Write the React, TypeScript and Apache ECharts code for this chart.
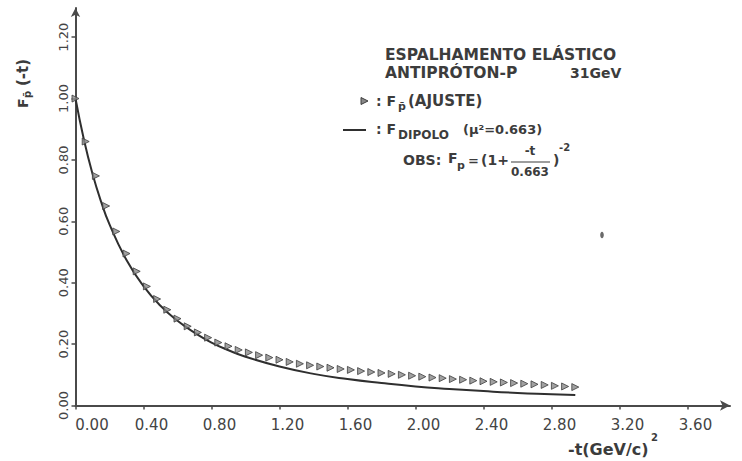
import React, { useEffect, useRef } from "react";
import * as echarts from "echarts";

// Fitted form factor F_pbar(-t) (triangles)
const FIT_T = [
  0, 0.06, 0.12, 0.18, 0.24, 0.3, 0.36, 0.42, 0.48, 0.54, 0.6, 0.66, 0.72, 0.78, 0.84, 0.9, 0.96,
  1.02, 1.08, 1.14, 1.2, 1.26, 1.32, 1.38, 1.44, 1.5, 1.56, 1.62, 1.68, 1.74, 1.8, 1.86, 1.92, 1.98,
  2.04, 2.1, 2.16, 2.22, 2.28, 2.34, 2.4, 2.46, 2.52, 2.58, 2.64, 2.7, 2.76, 2.82, 2.88, 2.94,
];
const FIT_F = [
  1.0, 0.86, 0.748, 0.65, 0.567, 0.495, 0.437, 0.388, 0.347, 0.312, 0.283, 0.258, 0.238, 0.221, 0.205, 0.193, 0.181,
  0.173, 0.164, 0.156, 0.149, 0.142, 0.136, 0.131, 0.127, 0.123, 0.119, 0.116, 0.112, 0.109, 0.106, 0.103, 0.1, 0.097,
  0.094, 0.091, 0.089, 0.086, 0.084, 0.081, 0.079, 0.077, 0.075, 0.073, 0.071, 0.069, 0.067, 0.064, 0.062, 0.06,
];

// Dipole curve (line)
const DIPOLE_T = [0, 0.05, 0.1, 0.15, 0.2, 0.3, 0.4, 0.5, 0.6, 0.7, 0.8, 0.9, 1.0, 1.2, 1.4, 1.6, 1.8, 2.0, 2.2, 2.4, 2.6, 2.8, 2.94];
const DIPOLE_F = [1.0, 0.865, 0.755, 0.665, 0.59, 0.474, 0.389, 0.325, 0.276, 0.237, 0.205, 0.18, 0.159, 0.127, 0.103, 0.086, 0.073, 0.062, 0.054, 0.047, 0.041, 0.037, 0.034];

const X_TICKS = [0, 0.4, 0.8, 1.2, 1.6, 2.0, 2.4, 2.8, 3.2, 3.6];
const Y_TICKS = [0, 0.2, 0.4, 0.6, 0.8, 1.0, 1.2];

const FONT = "DejaVu Sans";
const INK = "#3c3c3c";
const AXIS = "#4a4a4a";

function txt(x: number, y: number, text: string, size: number, extra: any = {}) {
  const { align, weight, rotation, color } = extra;
  return {
    type: "text",
    x,
    y,
    rotation: rotation || 0,
    style: {
      text,
      fill: color || INK,
      font: `${weight || "bold"} ${size}px "${FONT}"`,
      textAlign: align || "left",
      textVerticalAlign: "middle",
    },
  };
}

export default function App() {
  const ref = useRef<HTMLDivElement>(null);

  useEffect(() => {
    if (!ref.current) return;
    const chart = echarts.init(ref.current, undefined, { renderer: "svg" });

    const fitData = FIT_T.map((t, i) => [t, FIT_F[i]]);
    const dipData = DIPOLE_T.map((t, i) => [t, DIPOLE_F[i]]);

    const R = Math.PI / 2;

    const graphic: any[] = [
      // title
      txt(385, 55, "ESPALHAMENTO ELÁSTICO", 15.5),
      txt(385, 73, "ANTIPRÓTON-P", 15.5),
      txt(570, 73, "31GeV", 14),
      // legend line 1: triangles
      {
        type: "polygon",
        shape: { points: [[361, 97.5], [368, 101], [361, 104.5]] },
        style: { fill: "#888", stroke: "#3d3d3d", lineWidth: 1 },
      },
      txt(376, 101, ": F", 14),
      txt(398, 106, "p̄", 11),
      txt(408, 101, "(AJUSTE)", 15),
      // legend line 2: dipole
      {
        type: "line",
        shape: { x1: 343, y1: 130, x2: 366, y2: 130 },
        style: { stroke: "#2f2f2f", lineWidth: 2 },
      },
      txt(376, 129, ": F", 14),
      txt(398, 135, "DIPOLO", 12),
      txt(463, 129, "(μ²=0.663)", 13),
      // OBS formula
      txt(403, 160, "OBS:", 14),
      txt(448, 158, "F", 14),
      txt(457, 165, "p", 11),
      txt(468, 160, "=", 13),
      txt(481, 160, "(1+", 14),
      txt(530, 151, "-t", 12, { align: "center" }),
      {
        type: "line",
        shape: { x1: 511, y1: 162, x2: 550, y2: 162 },
        style: { stroke: INK, lineWidth: 1.2 },
      },
      txt(530, 172, "0.663", 12, { align: "center" }),
      txt(553, 160, ")", 14),
      txt(559, 147, "-2", 10),
      // x-axis name
      txt(568, 449, "-t(GeV/c)", 16),
      txt(651, 437, "2", 10),
      // y-axis name (rotated)
      txt(23, 108, "F", 14, { rotation: R }),
      txt(27, 98, "p̄", 10, { rotation: R }),
      txt(23, 86, "(-t)", 15, { rotation: R }),
      // small speck on the page
      {
        type: "ellipse",
        shape: { cx: 602, cy: 235, rx: 1.8, ry: 3.2 },
        style: { fill: "#6a6a6a" },
      },
    ];

    chart.setOption({
      animation: false,
      backgroundColor: "#ffffff",
      grid: { left: 75.5, right: 12, top: 8, bottom: 55.5, containLabel: false },
      xAxis: {
        type: "value",
        min: 0,
        max: 3.85,
        splitLine: { show: false },
        axisLine: {
          show: true,
          symbol: ["none", "arrow"],
          symbolSize: [8, 10],
          lineStyle: { color: AXIS, width: 2 },
        },
        axisTick: { show: true, customValues: X_TICKS, length: 4, lineStyle: { color: AXIS, width: 1.5 } },
        axisLabel: {
          customValues: X_TICKS,
          margin: 12,
          color: "#444",
          fontFamily: FONT,
          fontSize: 15,
          formatter: (v: number) => (v === 0 ? `{z|${v.toFixed(2)}}` : `{n|${v.toFixed(2)}}`),
          rich: {
            z: { padding: [0, 0, 0, 33], fontFamily: FONT, fontSize: 15, color: "#444" },
            n: { padding: [0, 0, 0, 16], fontFamily: FONT, fontSize: 15, color: "#444" },
          },
        },
      },
      yAxis: {
        type: "value",
        min: 0,
        max: 1.295,
        splitLine: { show: false },
        axisLine: {
          show: true,
          symbol: ["none", "arrow"],
          symbolSize: [7, 9],
          lineStyle: { color: AXIS, width: 2 },
        },
        axisTick: { show: true, customValues: Y_TICKS, length: 4, lineStyle: { color: AXIS, width: 1.5 } },
        axisLabel: {
          customValues: Y_TICKS,
          rotate: 90,
          margin: 6,
          color: "#444",
          fontFamily: FONT,
          fontSize: 13,
          formatter: (v: number) => v.toFixed(2),
        },
      },
      series: [
        {
          type: "line",
          name: "DIPOLO",
          data: dipData,
          smooth: true,
          showSymbol: false,
          lineStyle: { color: "#2f2f2f", width: 2 },
          z: 2,
        },
        {
          type: "scatter",
          name: "AJUSTE",
          data: fitData,
          symbol: "triangle",
          symbolRotate: -90,
          symbolSize: 7,
          itemStyle: { color: "#8a8a8a", borderColor: "#3d3d3d", borderWidth: 1 },
          z: 3,
        },
      ],
      graphic,
    });

    return () => chart.dispose();
  }, []);

  return <div ref={ref} style={{ width: 742, height: 461, position: "absolute", left: 0, top: 0 }} />;
}
